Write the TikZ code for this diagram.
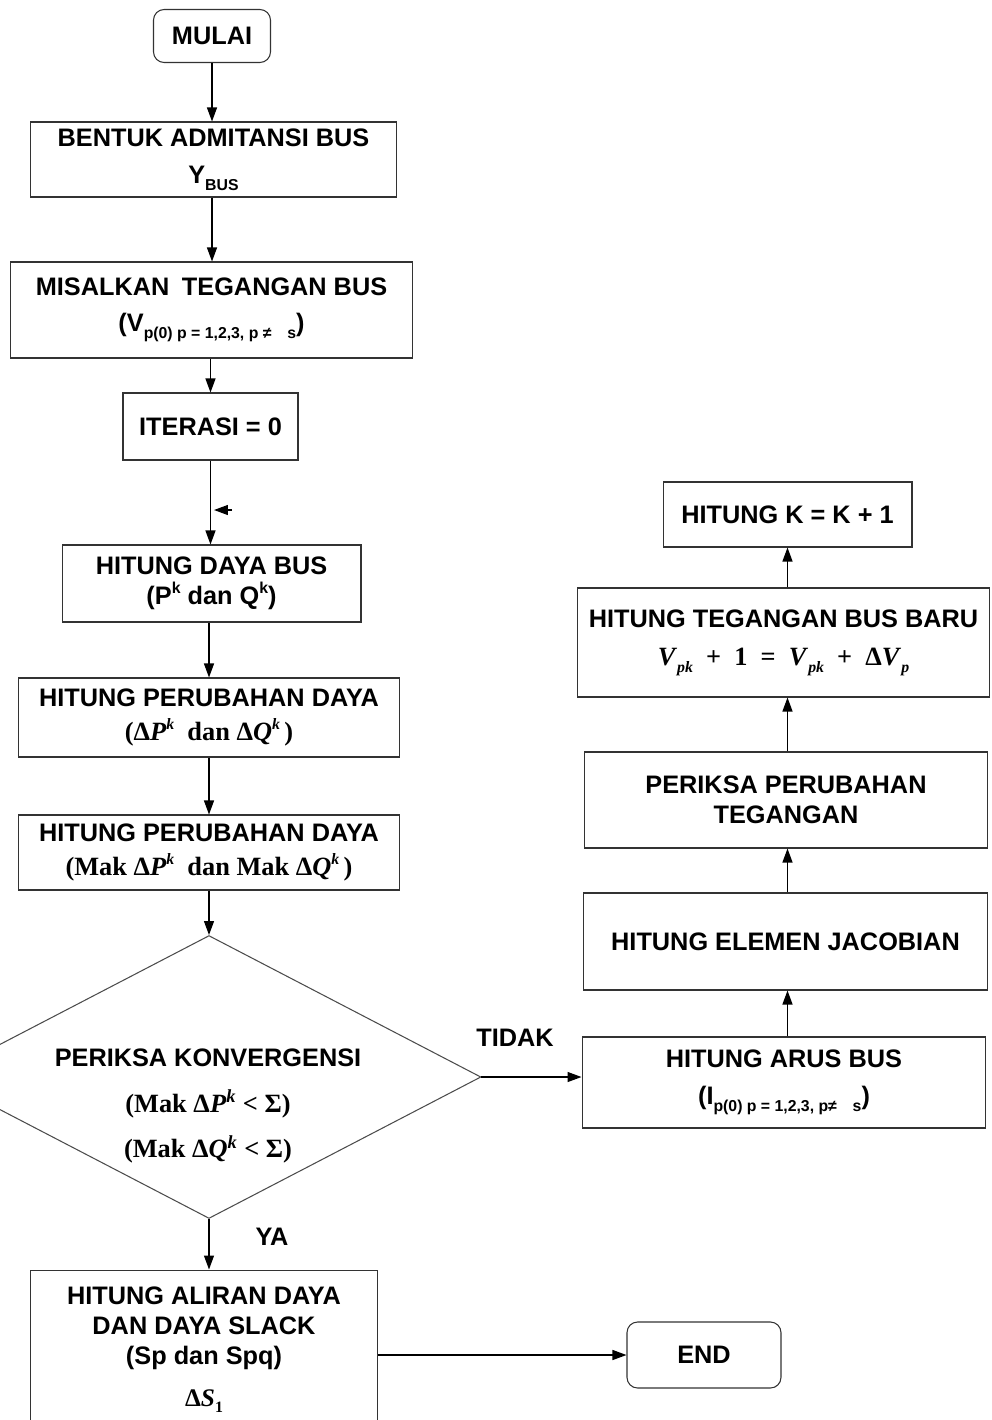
\documentclass[tikz,border=0pt]{standalone}
\usepackage{fontspec}
\setmainfont{Liberation Sans}
\newfontfamily\serifrm{Liberation Serif}
\usepackage{tikz}
\usetikzlibrary{arrows.meta,positioning,shapes.geometric}
\newcommand{\subtx}[1]{\raisebox{-0.55ex}{\fontsize{9}{9}\selectfont #1}}
\newcommand{\suptx}[1]{\raisebox{0.85ex}{\fontsize{9}{9}\selectfont #1}}
\tikzset{
  proses/.style={draw=black!80,line width=0.6pt,rectangle,align=center,inner sep=0pt},
  terminal/.style={proses,rounded corners=6pt},
  keputusan/.style={draw=black!70,line width=0.6pt,diamond,inner sep=0pt},
  alur/.style={line width=0.7pt,-{Triangle[length=2.8mm,width=2mm]}},
  lbl/.style={font=\fontsize{14.4}{17}\selectfont\bfseries},
}

\begin{document}
\begin{tikzpicture}[x=0.02cm,y=-0.02cm,font=\fontsize{14.4}{17}\selectfont\bfseries]
\useasboundingbox (0,0) rectangle (991,1420);
% kolom kiri
\node[terminal,minimum width=2.34cm,minimum height=1.06cm] (mulai) at (212,36) {MULAI};
\node[proses,minimum width=7.34cm,minimum height=1.5cm] (bentuk) at (213.5,159.5) {BENTUK ADMITANSI BUS\\[4pt] Y\subtx{BUS}};
\node[proses,minimum width=8.06cm,minimum height=1.92cm] (misal) at (211.5,310) {MISALKAN\enspace TEGANGAN BUS\\[3pt] (V\subtx{p(0) p = 1,2,3, p ≠\quad s})};
\node[proses,minimum width=3.5cm,minimum height=1.34cm] (iterasi) at (210.5,426.5) {ITERASI = 0};
\node[proses,minimum width=5.98cm,minimum height=1.54cm] (daya) at (211.5,583.5) {HITUNG DAYA BUS\\ (P\suptx{k} dan Q\suptx{k})};
\node[proses,minimum width=7.64cm,minimum height=1.58cm] (ubah) at (209,717.5) {HITUNG PERUBAHAN DAYA\\[2pt] {\serifrm\fontsize{15}{18}\selectfont(Δ\textit{P}\suptx{\itshape k}\enspace dan Δ\textit{Q}\suptx{\itshape k}\,)}};
\node[proses,minimum width=7.64cm,minimum height=1.5cm] (maks) at (209,852.5) {HITUNG PERUBAHAN DAYA\\[2pt] {\serifrm\fontsize{15}{18}\selectfont(Mak Δ\textit{P}\suptx{\itshape k}\enspace dan Mak Δ\textit{Q}\suptx{\itshape k}\,)}};
\node[keputusan,minimum width=10.88cm,minimum height=5.66cm] (cek) at (209,1077) {};
\node[align=center] (cektxt) at (208,1106) {PERIKSA KONVERGENSI\\[9pt] {\serifrm\fontsize{15}{18}\selectfont(Mak Δ\textit{P}\textsuperscript{\itshape k} < Σ)}\\[9pt] {\serifrm\fontsize{15}{18}\selectfont(Mak Δ\textit{Q}\textsuperscript{\itshape k} < Σ)}};
\node[proses,minimum width=6.96cm,minimum height=3.2cm] (aliran) at (204,1350) {HITUNG ALIRAN DAYA\\ DAN DAYA SLACK\\ (Sp dan Spq)\\[7pt] {\serifrm Δ\textit{S}\subtx{1}}};
\node[terminal,minimum width=3.08cm,minimum height=1.32cm] (end) at (704,1355) {END};
% kolom kanan
\node[proses,minimum width=4.98cm,minimum height=1.3cm] (kbaru) at (787.5,514.5) {HITUNG K = K + 1};
\node[proses,minimum width=8.26cm,minimum height=2.18cm] (baru) at (783.5,642.5) {HITUNG TEGANGAN BUS BARU\\[5pt] {\serifrm\fontsize{15}{18}\selectfont\textit{V}\subtx{\itshape pk}\enspace+\enspace1\enspace=\enspace\textit{V}\subtx{\itshape pk}\enspace+\enspace Δ\textit{V}\subtx{\itshape p}}};
\node[proses,minimum width=8.06cm,minimum height=1.92cm] (periksa) at (786,800) {PERIKSA PERUBAHAN\\ TEGANGAN};
\node[proses,minimum width=8.1cm,minimum height=1.94cm] (jacobi) at (785.5,941.5) {HITUNG ELEMEN JACOBIAN};
\node[proses,minimum width=8.08cm,minimum height=1.82cm] (arus) at (784,1082.5) {HITUNG ARUS BUS\\[4pt] (I\subtx{p(0) p = 1,2,3, p≠\quad s})};
\node[lbl] (tidak) at (515,1038) {TIDAK};
\node[lbl] (ya) at (272,1237) {YA};
\coordinate (sisaA) at (232,510);
\coordinate (sisaB) at (214,510);
% alur
\draw[alur] (mulai) -- (mulai |- bentuk.north);
\draw[alur] (bentuk.south -| mulai) -- (mulai |- misal.north);
\draw[alur] (misal.south -| iterasi) -- (iterasi.north);
\draw[alur] (iterasi) -- (iterasi |- daya.north);
\draw[alur] (daya.south -| maks) -- (maks |- ubah.north);
\draw[alur] (ubah) -- (maks);
\draw[alur] (maks) -- (cek.north);
\draw[alur] (cek.south) -- (cek |- aliran.north);
\draw[alur] (cek.east) -- (cek.east -| arus.west);
\draw[alur] (aliran.east |- end.west) -- (end.west);
\draw[alur] (arus.north -| kbaru) -- (kbaru |- jacobi.south);
\draw[alur] (jacobi.north -| kbaru) -- (kbaru |- periksa.south);
\draw[alur] (periksa.north -| kbaru) -- (kbaru |- baru.south);
\draw[alur] (baru.north -| kbaru) -- (kbaru);
\draw[alur] (sisaA) -- (sisaB);
\end{tikzpicture}
\end{document}
